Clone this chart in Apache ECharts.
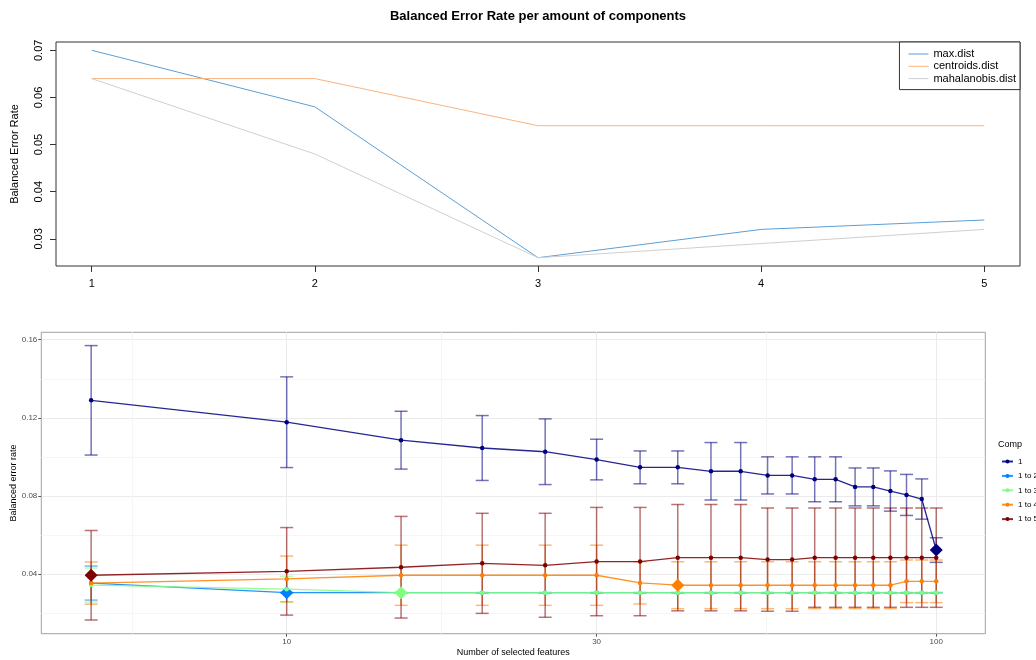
<!DOCTYPE html>
<html><head><meta charset="utf-8">
<script src="https://cdn.jsdelivr.net/npm/echarts@6/dist/echarts.min.js"></script>
<style>html,body{margin:0;padding:0;background:#fff}#c{width:1036px;height:660px}</style>
</head><body><div id="c"></div>
<script>
// ---------- top chart data ----------
const nComp = [1, 2, 3, 4, 5];
const maxDist = [0.070, 0.058, 0.026, 0.032, 0.034];
const centroidsDist = [0.064, 0.064, 0.054, 0.054, 0.054];
const mahalanobisDist = [0.064, 0.048, 0.026, 0.029, 0.032];
const topYTicks = [0.03, 0.04, 0.05, 0.06, 0.07];
const topNames = ['max.dist', 'centroids.dist', 'mahalanobis.dist'];

// ---------- bottom chart data ----------
const keepX = [5, 10, 15, 20, 25, 30, 35, 40, 45, 50, 55, 60, 65, 70, 75, 80, 85, 90, 95, 100];
const compNames = ['1', '1 to 2', '1 to 3', '1 to 4', '1 to 5'];
const comp1Mean = [0.129, 0.1178, 0.1086, 0.1046, 0.1027, 0.0987, 0.0947, 0.0947, 0.0927, 0.0927, 0.0906, 0.0906, 0.0886, 0.0886, 0.0847, 0.0847, 0.0826, 0.0806, 0.0785, 0.0524];
const comp1Sd = [0.028, 0.0232, 0.0148, 0.0166, 0.0168, 0.0104, 0.0084, 0.0084, 0.0147, 0.0147, 0.0095, 0.0095, 0.0115, 0.0115, 0.0097, 0.0097, 0.0103, 0.0105, 0.0103, 0.0063];
const comp2Mean = [0.0355, 0.0306, 0.0306, 0.0306, 0.0306, 0.0306, 0.0306, 0.0306, 0.0306, 0.0306, 0.0306, 0.0306, 0.0306, 0.0306, 0.0306, 0.0306, 0.0306, 0.0306, 0.0306, 0.0306];
const comp2Sd = [0.0087, 0, 0, 0, 0, 0, 0, 0, 0, 0, 0, 0, 0, 0, 0, 0, 0, 0, 0, 0];
const comp3Mean = [0.0345, 0.0324, 0.0306, 0.0306, 0.0306, 0.0306, 0.0306, 0.0306, 0.0306, 0.0306, 0.0306, 0.0306, 0.0306, 0.0306, 0.0306, 0.0306, 0.0306, 0.0306, 0.0306, 0.0306];
const comp3Sd = [0.0087, 0.0066, 0, 0, 0, 0, 0, 0, 0, 0, 0, 0, 0, 0, 0, 0, 0, 0, 0, 0];
const comp4Mean = [0.0355, 0.0376, 0.0395, 0.0395, 0.0395, 0.0395, 0.0356, 0.0344, 0.0344, 0.0344, 0.0344, 0.0344, 0.0344, 0.0344, 0.0344, 0.0344, 0.0344, 0.0364, 0.0364, 0.0364];
const comp4Sd = [0.0108, 0.0117, 0.0154, 0.0154, 0.0154, 0.0154, 0.0108, 0.012, 0.012, 0.012, 0.012, 0.012, 0.012, 0.012, 0.012, 0.012, 0.012, 0.0109, 0.0109, 0.0109];
const comp5Mean = [0.0395, 0.0415, 0.0436, 0.0456, 0.0446, 0.0465, 0.0465, 0.0485, 0.0485, 0.0485, 0.0475, 0.0475, 0.0485, 0.0485, 0.0485, 0.0485, 0.0485, 0.0485, 0.0485, 0.0485];
const comp5Sd = [0.0229, 0.0224, 0.026, 0.0256, 0.0266, 0.0277, 0.0277, 0.0272, 0.0272, 0.0272, 0.0264, 0.0264, 0.0254, 0.0254, 0.0254, 0.0254, 0.0254, 0.0254, 0.0254, 0.0254];
const optimalKeepX = [100, 10, 15, 40, 5];
const bottomXTicks = [10, 30, 100];
const bottomXMinor = [5.774, 17.32, 54.77];
const bottomYTicks = [0.04, 0.08, 0.12, 0.16];
const bottomYMinor = [0.02, 0.06, 0.10, 0.14];

const FONT = 'Liberation Sans, Arial, sans-serif';
const topColors = ['#5b9fd6', '#f9b47f', '#cfcfcf'];
const compColors = ['#00007F', '#007FFF', '#7FFF7F', '#FF7F00', '#7F0000'];
const compMeans = [comp1Mean, comp2Mean, comp3Mean, comp4Mean, comp5Mean];
const compSds = [comp1Sd, comp2Sd, comp3Sd, comp4Sd, comp5Sd];

function errRenderer(color) {
  return function (params, api) {
    const x = api.value(0), lo = api.value(1), hi = api.value(2);
    const a = api.coord([x, lo]), b = api.coord([x, hi]);
    const hw = 6.5;
    const style = { stroke: color, lineWidth: 1.5, opacity: 0.55 };
    return { type: 'group', children: [
      { type: 'line', shape: { x1: a[0], y1: a[1], x2: b[0], y2: b[1] }, style: style },
      { type: 'line', shape: { x1: a[0] - hw, y1: a[1], x2: a[0] + hw, y2: a[1] }, style: style },
      { type: 'line', shape: { x1: b[0] - hw, y1: b[1], x2: b[0] + hw, y2: b[1] }, style: style }
    ] };
  };
}

const series = [];
[maxDist, centroidsDist, mahalanobisDist].forEach(function (vals, k) {
  series.push({
    type: 'line', name: topNames[k], xAxisIndex: 0, yAxisIndex: 0, symbol: 'none',
    lineStyle: { width: 1, color: topColors[k] }, itemStyle: { color: topColors[k] },
    data: nComp.map(function (x, i) { return [x, vals[i]]; })
  });
});
compNames.forEach(function (nm, k) {
  series.push({
    type: 'custom', name: nm + ' sd', xAxisIndex: 1, yAxisIndex: 1, z: 2,
    renderItem: errRenderer(compColors[k]),
    encode: { x: 0, y: [1, 2] },
    data: keepX.map(function (x, i) { return [x, compMeans[k][i] - compSds[k][i], compMeans[k][i] + compSds[k][i]]; })
  });
});
compNames.forEach(function (nm, k) {
  series.push({
    type: 'line', name: nm, xAxisIndex: 1, yAxisIndex: 1, z: 3 + k,
    symbol: 'circle', symbolSize: 4.5,
    lineStyle: { width: 1.3, color: compColors[k], opacity: 0.85 },
    itemStyle: { color: compColors[k] },
    data: keepX.map(function (x, i) {
      const v = [x, compMeans[k][i]];
      return x === optimalKeepX[k] ? { value: v, symbol: 'diamond', symbolSize: 13 } : v;
    })
  });
});

const option = {
  animation: false,
  textStyle: { fontFamily: FONT },
  title: [
    { text: 'Balanced Error Rate per amount of components', left: 538, top: 10, padding: 0, textAlign: 'center',
      textStyle: { fontSize: 13, fontWeight: 'bold', color: '#000', fontFamily: FONT } },
    { text: 'Comp', left: 998, top: 440, padding: 0, textStyle: { fontSize: 9, fontWeight: 'normal', color: '#000', fontFamily: FONT } }
  ],
  legend: [
    { data: topNames.map(function (n) { return { name: n, icon: 'path://M0,0L20,0L20,1L0,1Z' }; }),
      orient: 'vertical', right: 16, top: 42, symbolKeepAspect: true,
      borderColor: '#333', borderWidth: 1, borderRadius: 0, backgroundColor: '#fff', padding: [6, 4, 5, 9],
      itemWidth: 20, itemHeight: 12, itemGap: 0.3,
      textStyle: { fontSize: 11, lineHeight: 12, color: '#000', fontFamily: FONT } },
    { data: compNames, orient: 'vertical', left: 1001, top: 457, padding: 0,
      itemWidth: 11, itemHeight: 5, itemGap: 5.4,
      textStyle: { fontSize: 8, lineHeight: 9, color: '#000', fontFamily: FONT } }
  ],
  grid: [
    { left: 56, top: 42, width: 964, height: 224, show: true, borderColor: '#333', borderWidth: 1, containLabel: false, outerBoundsMode: 'none' },
    { left: 41.3, top: 332.3, width: 944, height: 301.4, show: true, borderColor: '#a0a0a0', borderWidth: 1, containLabel: false, outerBoundsMode: 'none' }
  ],
  xAxis: [
    { gridIndex: 0, type: 'value', min: 0.84, max: 5.16,
      axisLine: { show: false }, splitLine: { show: false },
      axisTick: { show: true, length: 6, customValues: nComp, lineStyle: { color: '#333' } },
      axisLabel: { customValues: nComp, fontSize: 11, color: '#000', margin: 12 } },
    { gridIndex: 1, type: 'log', logBase: 10, min: 4.19, max: 119,
      axisLine: { show: false },
      axisTick: { show: true, length: 3, customValues: bottomXTicks, lineStyle: { color: '#555' } },
      axisLabel: { customValues: bottomXTicks, fontSize: 8, color: '#4d4d4d', margin: 4 },
      splitLine: { show: true, lineStyle: { color: '#ebebeb', width: 1 } },
      name: 'Number of selected features', nameLocation: 'middle', nameGap: 14, nameMoveOverlap: false,
      nameTextStyle: { fontSize: 9, color: '#000' } },
    { gridIndex: 1, type: 'log', logBase: 10, min: 4.19, max: 119,
      axisLine: { show: false }, axisLabel: { show: false },
      axisTick: { show: false, customValues: bottomXMinor },
      splitLine: { show: true, lineStyle: { color: '#f5f5f5', width: 1 } } }
  ],
  yAxis: [
    { gridIndex: 0, type: 'value', min: 0.02424, max: 0.07176,
      axisLine: { show: false }, splitLine: { show: false },
      axisTick: { show: true, length: 6, customValues: topYTicks, lineStyle: { color: '#333' } },
      axisLabel: { customValues: topYTicks, rotate: 90, fontSize: 11, color: '#000', margin: 12,
        formatter: function (v) { return v.toFixed(2); } },
      name: 'Balanced Error Rate', nameLocation: 'middle', nameGap: 36, nameMoveOverlap: false,
      nameTextStyle: { fontSize: 11, color: '#000' } },
    { gridIndex: 1, type: 'value', min: 0.0096, max: 0.1638,
      axisLine: { show: false },
      axisTick: { show: true, length: 3, customValues: bottomYTicks, lineStyle: { color: '#555' } },
      axisLabel: { customValues: bottomYTicks, fontSize: 8, color: '#4d4d4d', margin: 4,
        formatter: function (v) { return v.toFixed(2); } },
      splitLine: { show: true, lineStyle: { color: '#ebebeb', width: 1 } },
      name: 'Balanced error rate', nameLocation: 'middle', nameGap: 23, nameMoveOverlap: false,
      nameTextStyle: { fontSize: 9, color: '#000' } },
    { gridIndex: 1, type: 'value', min: 0.0096, max: 0.1638, position: 'left',
      axisLine: { show: false }, axisLabel: { show: false },
      axisTick: { show: false, customValues: bottomYMinor },
      splitLine: { show: true, lineStyle: { color: '#f5f5f5', width: 1 } } }
  ],
  series: series
};
const chart = echarts.init(document.getElementById('c'), null, { renderer: 'canvas' });
chart.setOption(option);
</script></body></html>
